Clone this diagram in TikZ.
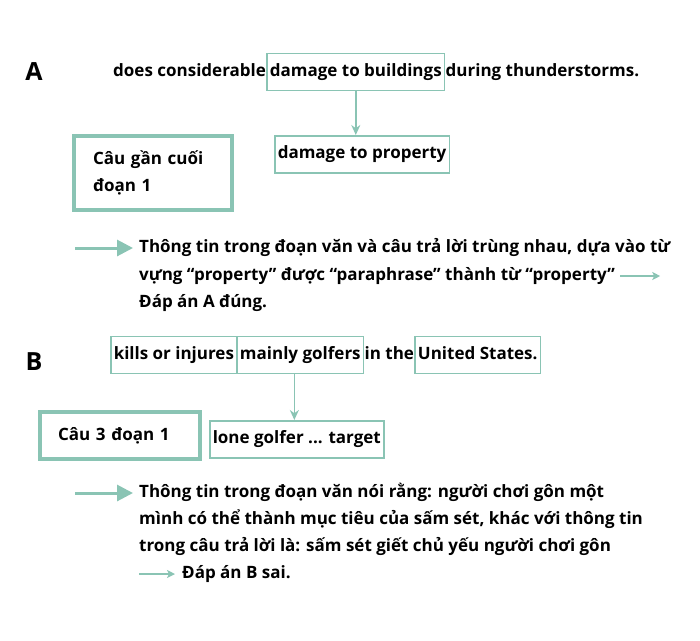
\documentclass[tikz,border=0pt]{standalone}
\usepackage{fontspec}
\setmainfont{Open Sans}
\usetikzlibrary{positioning,arrows.meta}
\definecolor{mint}{RGB}{138,196,180}
\tikzset{
  txt/.style={font=\bfseries\fontsize{17}{20}\selectfont, inner sep=0pt, text height=12.5pt, text depth=3.5pt},
  hl/.style={txt, draw=mint, line width=1.5pt, inner xsep=3pt, minimum height=37pt},
  tagbox/.style={draw=mint, line width=4pt, font=\bfseries\fontsize{17}{27}\selectfont, align=left},
  letter/.style={font=\bfseries\fontsize{25}{28}\selectfont, inner sep=0pt},
  bigarrow/.style={draw=mint, line width=3pt, -{Triangle[length=16pt,width=16pt]}},
  smallarrow/.style={draw=mint, line width=1.5pt, -{Stealth[length=8pt,width=8pt,inset=2pt]}},
  link/.style={draw=mint, line width=1.5pt, -{Stealth[length=10pt,width=9pt]}},
}
\begin{document}
\begin{tikzpicture}[x=1pt,y=-1pt]
                \useasboundingbox (0,0) rectangle (700,640);
                % A
                \node[letter] (la) at (34,72) {A};
                \node[txt, anchor=west] (a1) at (113,72) {does considerable};
                \node[hl, right=0pt of a1] (bld) {damage to buildings};
                \node[txt, right=0pt of bld] (a2) {during thunderstorms.};
                \node[hl, anchor=north west] (prop) at (274,135) {damage to property};
                \draw[link] (bld.south) -- (bld.south |- prop.north);
                \node[tagbox, minimum width=158pt, minimum height=74pt, text width=120pt] (tagA) at (153,173) {Câu gần cuối\\đoạn 1};
                \node[txt, anchor=west] (pa1) at (139,248) {Thông tin trong đoạn văn và câu trả lời trùng nhau, dựa vào từ};
                \node[txt, anchor=west] (pa2) at (139,276) {vựng “property” được “paraphrase” thành từ “property”};
                \node[txt, anchor=west] (pa3) at (139,303) {Đáp án A đúng.};
                \coordinate[left=64pt of pa1.west] (sa);
                \draw[bigarrow] (sa) -- ([xshift=-6pt]pa1.west);
                \coordinate[right=5pt of pa2.east] (ta);
                \draw[smallarrow] (ta) -- ++(40,0);
                % B
                \node[letter] (lb) at (34,362) {B};
                \node[hl, anchor=west] (kil) at (110,355) {kills or injures};
                \node[hl, right=-1.5pt of kil] (golf) {mainly golfers};
                \node[txt, right=0pt of golf] (b1) {in the};
                \node[hl, right=0pt of b1] (us) {United States.};
                \node[hl, anchor=north west] (lone) at (209,420) {lone golfer ... target};
                \draw[link] ([xshift=-6pt]golf.south) -- ([xshift=-6pt]golf.south |- lone.north);
                \node[tagbox, minimum width=160pt, minimum height=47pt, text width=124pt] (tagB) at (120,435.5) {Câu 3 đoạn 1};
                \node[txt, anchor=west] (pb1) at (139,493) {Thông tin trong đoạn văn nói rằng: người chơi gôn một};
                \node[txt, anchor=west] (pb2) at (139,520) {mình có thể thành mục tiêu của sấm sét, khác với thông tin};
                \node[txt, anchor=west] (pb3) at (139,547) {trong câu trả lời là: sấm sét giết chủ yếu người chơi gôn};
                \node[txt, anchor=west] (pb4) at (182,574) {Đáp án B sai.};
                \coordinate[left=64pt of pb1.west] (sb);
                \draw[bigarrow] (sb) -- ([xshift=-6pt]pb1.west);
                \coordinate[left=43pt of pb4.west] (tb);
                \draw[smallarrow] (tb) -- ([xshift=-7pt]pb4.west);
\end{tikzpicture}
\end{document}
